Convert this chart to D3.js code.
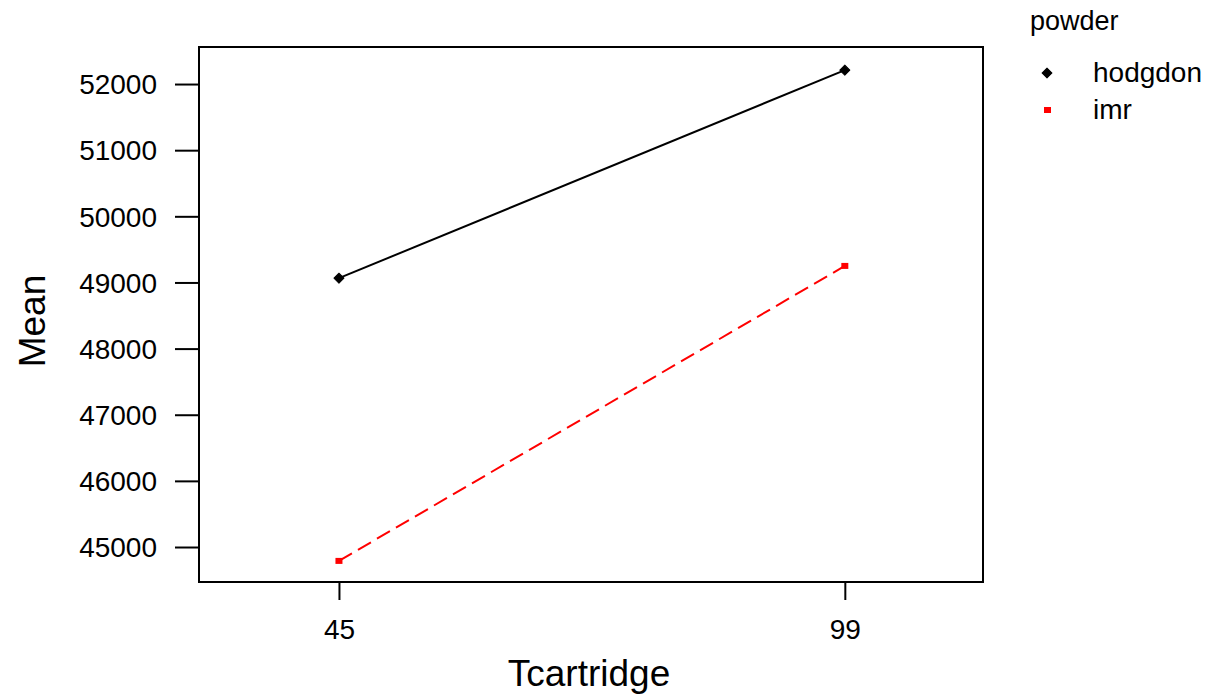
<!DOCTYPE html>
<html><head><meta charset="utf-8">
<script src="https://cdn.jsdelivr.net/npm/d3@7"></script>
<style>body{margin:0;background:#fff}svg{display:block}text{font-family:"Liberation Sans",Arial,sans-serif;fill:#000}</style>
</head><body><svg id="c" width="1210" height="694"></svg>
<script>
const categories = [45, 99];
const hodgdon = [49065, 52210];
const imr = [44790, 49250];
const yTicks = [45000, 46000, 47000, 48000, 49000, 50000, 51000, 52000];
const seriesNames = ["hodgdon", "imr"];

const svg = d3.select("#c");
const L = 199, R = 983, T = 47, B = 582;
const x = d3.scaleLinear().domain([30.06, 113.75]).range([L, R]);
const y = d3.scaleLinear().domain([44471, 52560]).range([B, T]);

svg.append("rect").attr("x", L).attr("y", T).attr("width", R - L).attr("height", B - T)
  .attr("fill", "none").attr("stroke", "#000").attr("stroke-width", 2);

const ya = svg.append("g").attr("transform", `translate(${L},0)`)
  .call(d3.axisLeft(y).tickValues(yTicks).tickSize(24).tickPadding(18).tickFormat(d3.format("d")));
ya.select(".domain").remove();
ya.selectAll("line").attr("stroke-width", 2);
ya.selectAll("text").attr("font-size", 28).attr("dy", "0.35em");

const xa = svg.append("g").attr("transform", `translate(0,${B})`)
  .call(d3.axisBottom(x).tickValues(categories).tickSize(18).tickPadding(19).tickFormat(d3.format("d")));
xa.select(".domain").remove();
xa.selectAll("line").attr("stroke-width", 2);
xa.selectAll("text").attr("font-size", 28);

const line = d3.line().x((d, i) => x(categories[i])).y(d => y(d));
svg.append("path").datum(hodgdon).attr("d", line).attr("fill", "none").attr("stroke", "#000").attr("stroke-width", 2);
svg.append("path").datum(imr).attr("d", line).attr("fill", "none").attr("stroke", "#ff0000").attr("stroke-width", 2).attr("stroke-dasharray", "15,7");

const diamond = d3.symbol().type(d3.symbolSquare).size(50);
svg.selectAll(".hp").data(hodgdon).enter().append("path")
  .attr("transform", (d, i) => `translate(${x(categories[i])},${y(d)}) rotate(45)`).attr("d", diamond)
  .attr("fill", "#000").attr("stroke", "#000").attr("stroke-width", 1).attr("stroke-linejoin", "round");
svg.selectAll(".ip").data(imr).enter().append("rect")
  .attr("x", (d, i) => x(categories[i]) - 3.5).attr("y", d => y(d) - 3).attr("width", 7).attr("height", 6).attr("fill", "#ff0000");

svg.append("text").attr("x", 589).attr("y", 686).attr("text-anchor", "middle").attr("font-size", 37).text("Tcartridge");
svg.append("text").attr("transform", "translate(45,321) rotate(-90)").attr("text-anchor", "middle").attr("font-size", 37).text("Mean");

// legend
svg.append("text").attr("x", 1030).attr("y", 30).attr("font-size", 27).text("powder");
const lg = svg.append("g");
lg.append("path").attr("transform", "translate(1047,73) rotate(45)").attr("d", diamond)
  .attr("fill", "#000").attr("stroke", "#000").attr("stroke-width", 1).attr("stroke-linejoin", "round");
lg.append("rect").attr("x", 1044).attr("y", 107).attr("width", 7).attr("height", 6).attr("fill", "#ff0000");
lg.selectAll(".lt").data(seriesNames).enter().append("text")
  .attr("x", 1093).attr("y", (d, i) => 82 + i * 37).attr("font-size", 28).text(d => d);
</script></body></html>
